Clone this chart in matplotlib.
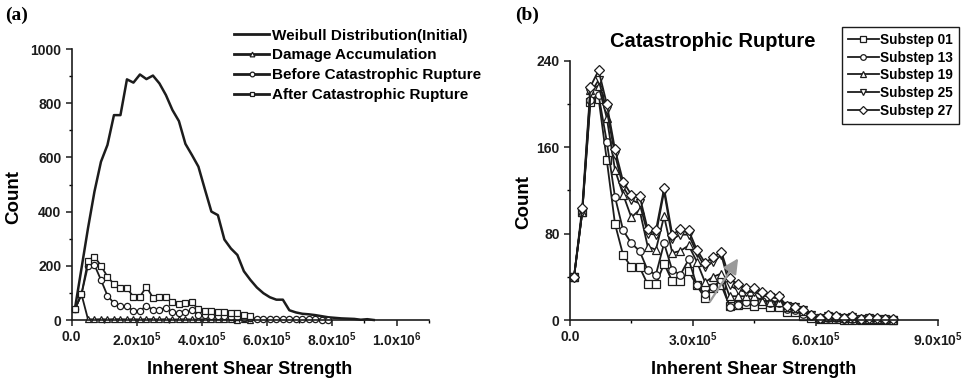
import matplotlib
matplotlib.use('Agg')
import matplotlib.pyplot as plt
import matplotlib.ticker as mtick
import numpy as np


# bin centres, in units of 1e4
BINS = [1, 3, 5, 7, 9, 11, 13, 15, 17, 19, 21, 23, 25, 27, 29, 31, 33, 35, 37, 39,
        41, 43, 45, 47, 49, 51, 53, 55, 57, 59, 61, 63, 65, 67, 69, 71, 73, 75, 77, 79,
        81, 83, 85, 87, 89, 91, 93]

# panel (a)
weibull = [43, 190, 338, 474, 584, 646, 756, 756, 888, 876, 906, 889, 902, 873, 830, 775,
           734, 650, 609, 566, 482, 400, 387, 297, 264, 240, 180, 148, 120, 99, 84, 75,
           75, 36, 28, 23, 21, 18, 14, 10, 8, 6, 5, 4, 1, 3, 0]
damage = [40, 95, 3, 2, 3, 2, 3, 3, 2, 3, 2, 3, 3, 2, 3, 2, 2, 3, 2, 2, 3, 2, 2, 2, 2, 1, 2, 1]
before = [40, 95, 200, 203, 148, 90, 62, 52, 52, 33, 33, 53, 37, 37, 46, 28, 25, 28, 36, 18,
          18, 15, 14, 13, 12, 10, 8, 7, 5, 4, 3, 3, 3, 2, 2, 2, 2, 2, 1, 1]
after = [40, 95, 218, 234, 200, 160, 132, 117, 117, 86, 86, 123, 82, 86, 86, 68, 59, 62, 65, 39,
         34, 34, 31, 28, 27, 25, 18, 15]

# panel (b)
sub01 = [40, 100, 202, 205, 148, 89, 60, 49, 49, 33, 33, 52, 36, 36, 45, 32, 20, 30, 32, 13,
         14, 15, 13, 15, 12, 12, 7, 7, 4, 2, 1, 1, 1, 0, 0, 0, 0, 0, 0, 0]
sub13 = [40, 100, 204, 208, 165, 114, 83, 71, 64, 46, 42, 71, 46, 42, 56, 32, 24, 31, 37, 12,
         14, 17, 17, 18, 16, 16, 10, 9, 6, 4, 2, 2, 2, 1, 1, 1, 1, 1, 0, 0]
sub19 = [40, 100, 213, 217, 187, 139, 116, 95, 102, 68, 65, 96, 62, 64, 69, 54, 35, 40, 43, 22,
         22, 22, 22, 18, 17, 17, 12, 11, 8, 5, 2, 3, 3, 2, 2, 1, 1, 1, 1, 0]
sub25 = [40, 100, 210, 222, 194, 153, 123, 111, 108, 80, 79, 119, 75, 79, 79, 62, 49, 54, 60, 32,
         28, 26, 26, 23, 21, 20, 13, 12, 9, 5, 2, 4, 3, 2, 3, 1, 2, 1, 1, 0]
sub27 = [40, 104, 216, 231, 200, 158, 128, 116, 115, 84, 83, 122, 79, 84, 83, 65, 53, 58, 63, 39,
         33, 30, 30, 26, 23, 22, 13, 12, 9, 5, 2, 5, 4, 2, 4, 1, 2, 2, 1, 1]

ARROW_FROM = (3.42e5, 17)
ARROW_TO = (4.11e5, 57)

X = [b * 1e4 for b in BINS]
INK = '#1c1c1c'

plt.rcParams['font.family'] = ['Liberation Sans', 'DejaVu Sans']
plt.rcParams['font.weight'] = 'bold'
plt.rcParams['mathtext.fontset'] = 'custom'
plt.rcParams['mathtext.rm'] = 'Liberation Sans:bold'
plt.rcParams['mathtext.bf'] = 'Liberation Sans:bold'
plt.rcParams['mathtext.default'] = 'bf'


def sci(v, pos):
    if v < 0:
        return ''
    if v < 1:
        return '0.0'
    e = int(np.floor(np.log10(v) + 1e-9))
    return f'{v / 10**e:.1f}x10$^{{{e}}}$'


def style(ax):
    for s in ['top', 'right']:
        ax.spines[s].set_visible(False)
    for s in ['left', 'bottom']:
        ax.spines[s].set_linewidth(1.2)
        ax.spines[s].set_color(INK)
    ax.tick_params(which='major', direction='out', length=4, width=1.1, labelsize=10, colors=INK)
    ax.tick_params(which='minor', direction='out', length=2.5, width=1)
    ax.xaxis.set_major_formatter(mtick.FuncFormatter(sci))


fig = plt.figure(figsize=(9.68, 3.82), dpi=100)

# ---- (a)
ax1 = fig.add_axes([0.0741, 0.1623, 0.3691, 0.7094])
mk = dict(markersize=4.5, markerfacecolor='white', markeredgecolor=INK, markeredgewidth=0.9,
          clip_on=False)
l1, = ax1.plot(X[:len(weibull)], weibull, color=INK, linewidth=1.8, clip_on=False)
l2, = ax1.plot(X[:len(damage)], damage, color=INK, linewidth=1.3, marker='^', **mk)
l3, = ax1.plot(X[:len(before)], before, color=INK, linewidth=1.3, marker='o', **mk)
l4, = ax1.plot(X[:len(after)], after, color=INK, linewidth=1.3, marker='s', **mk)
ax1.set_xlim(0, 1.1e6)
ax1.set_ylim(0, 1000)
ax1.xaxis.set_major_locator(mtick.MultipleLocator(2e5))
ax1.xaxis.set_minor_locator(mtick.MultipleLocator(1e5))
ax1.yaxis.set_major_locator(mtick.MultipleLocator(200))
ax1.yaxis.set_minor_locator(mtick.MultipleLocator(100))
style(ax1)
ax1.set_xlabel('Inherent Shear Strength', fontsize=13, fontweight='bold')
ax1.set_ylabel('Count', fontsize=13.5, fontweight='bold')
ax1.xaxis.set_label_coords(0.499, -0.151)
ax1.yaxis.set_label_coords(-0.139, 0.455)
lga = fig.legend([l1, l2, l3, l4],
                 ['Weibull Distribution(Initial)', 'Damage Accumulation',
                  'Before Catastrophic Rupture', 'After Catastrophic Rupture'],
                 loc='upper left', bbox_to_anchor=(0.242, 0.925), frameon=False, fontsize=11,
                 numpoints=1, markerscale=0.75, handlelength=2.3, handletextpad=0.2,
                 labelspacing=0.38, borderpad=0, borderaxespad=0)
for ln in lga.get_lines():
    ln.set_linewidth(2.0)

# ---- (b)
ax2 = fig.add_axes([0.5888, 0.1623, 0.3805, 0.6788])
mk2 = dict(markersize=5.4, markerfacecolor='white', markeredgecolor=INK, markeredgewidth=0.9,
           color=INK, linewidth=1.3, clip_on=False)
h = []
for ys, m in zip([sub01, sub13, sub19, sub25, sub27], ['s', 'o', '^', 'v', 'D']):
    ln, = ax2.plot(X[:len(ys)], ys, marker=m, **mk2)
    if m == 'D':
        ln.set_markersize(5.0)
    h.append(ln)
ax2.annotate('', xy=ARROW_TO, xytext=ARROW_FROM,
             arrowprops=dict(arrowstyle='-|>,head_width=0.45,head_length=0.9',
                             color='#9a9a9a', lw=1.6, shrinkA=0, shrinkB=0))
ax2.set_xlim(0, 9e5)
ax2.set_ylim(0, 240)
ax2.xaxis.set_major_locator(mtick.MultipleLocator(3e5))
ax2.xaxis.set_minor_locator(mtick.MultipleLocator(1.5e5))
ax2.yaxis.set_major_locator(mtick.MultipleLocator(80))
ax2.yaxis.set_minor_locator(mtick.MultipleLocator(40))
style(ax2)
ax2.set_xlabel('Inherent Shear Strength', fontsize=13, fontweight='bold')
ax2.set_ylabel('Count', fontsize=13.5, fontweight='bold')
ax2.xaxis.set_label_coords(0.498, -0.158)
ax2.yaxis.set_label_coords(-0.103, 0.456)
lg = fig.legend(h, ['Substep 01', 'Substep 13', 'Substep 19', 'Substep 25', 'Substep 27'],
                loc='upper left', bbox_to_anchor=(0.8695, 0.930), fontsize=9.8,
                numpoints=1, markerscale=0.75, handlelength=2.3, handletextpad=0.1,
                labelspacing=0.27, borderpad=0.45, borderaxespad=0, fancybox=False,
                edgecolor=INK, framealpha=1)
lg.get_frame().set_linewidth(1.0)

fig.text(712.5 / 968, 1 - 41.7 / 382, 'Catastrophic Rupture', ha='center', va='center',
         fontsize=14.5, fontweight='bold')
fig.text(5 / 968, 1 - 15 / 382, '(a)', ha='left', va='center', fontsize=14,
         fontweight='bold', family='Liberation Serif')
fig.text(515 / 968, 1 - 15 / 382, '(b)', ha='left', va='center', fontsize=14,
         fontweight='bold', family='Liberation Serif')

plt.savefig('out.png', dpi=100)
